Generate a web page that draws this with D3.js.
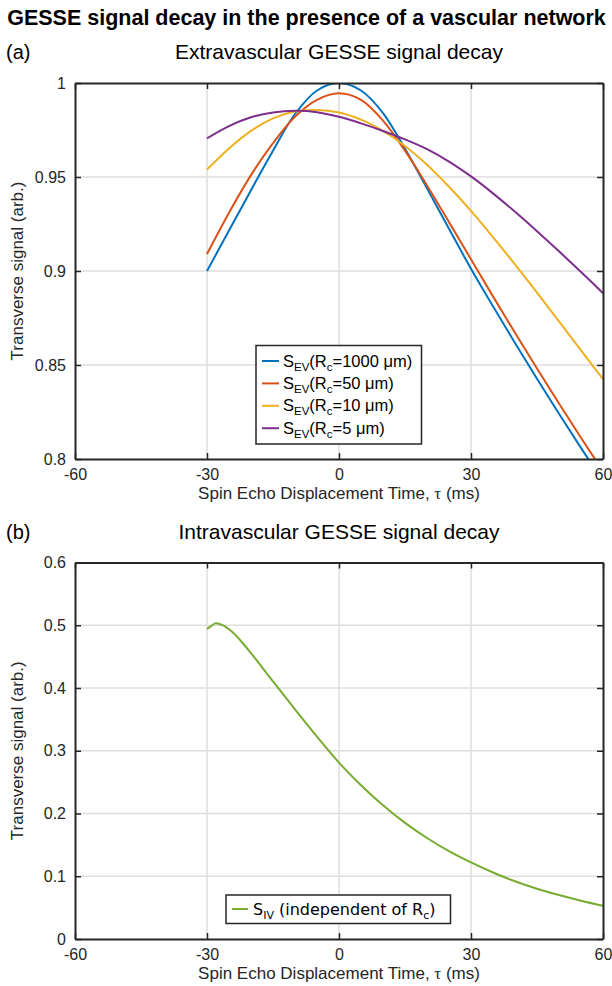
<!DOCTYPE html>
<html>
<head>
<meta charset="utf-8">
<script src="https://cdn.jsdelivr.net/npm/d3@7"></script>
<style>
  body { margin: 0; background: #fff; }
  svg text { font-family: "Liberation Sans", Arial, sans-serif; fill: #262626; }
</style>
</head>
<body>
<svg id="chart" width="612" height="986"></svg>
<script>
// Spin echo displacement time (ms) sampled for the extravascular curves
const tau = [-30, -25, -20, -15, -10, -5, 0, 5, 10, 15, 20, 25, 30, 35, 40, 45, 50, 55, 60];

// Extravascular signal for each capillary radius R_c
const evRc1000 = [0.900, 0.9215, 0.943, 0.964, 0.9835, 0.996, 1.000, 0.996, 0.984, 0.965, 0.944, 0.9225, 0.9012, 0.8812, 0.8617, 0.8427, 0.8241, 0.8059, 0.7881];
const evRc50   = [0.909, 0.931, 0.951, 0.968, 0.982, 0.991, 0.9945, 0.991, 0.980, 0.964, 0.9455, 0.926, 0.9062, 0.8865, 0.8671, 0.8481, 0.8295, 0.8113, 0.7935];
const evRc10   = [0.954, 0.9652, 0.9745, 0.9812, 0.9848, 0.9856, 0.9843, 0.9805, 0.9745, 0.9665, 0.9565, 0.9448, 0.932, 0.918, 0.9035, 0.8885, 0.8732, 0.8578, 0.8425];
const evRc5    = [0.9706, 0.9771, 0.9818, 0.9843, 0.9852, 0.9845, 0.982, 0.9785, 0.9745, 0.970, 0.9648, 0.9582, 0.9503, 0.9413, 0.9315, 0.9212, 0.9105, 0.8995, 0.8882];

// Intravascular signal (independent of R_c)
const ivTau    = [-30, -29, -28, -27, -26, -25, -24, -22, -20, -15, -10, -5, 0, 5, 10, 15, 20, 25, 30, 35, 40, 45, 50, 55, 60];
const ivSignal = [0.494, 0.499, 0.503, 0.5015, 0.4985, 0.4935, 0.4875, 0.4725, 0.4555, 0.4105, 0.366, 0.3225, 0.281, 0.245, 0.213, 0.185, 0.161, 0.140, 0.122, 0.106, 0.092, 0.080, 0.070, 0.061, 0.053];

// Legend labels, colours and ticks
const rcLabels = ["1000", "50", "10", "5"];
const evColors = ["#0072BD", "#D95319", "#EDB120", "#7E2F8E"];
const ivColor = "#77AC30";
const xTicks = [-60, -30, 0, 30, 60];
const yTicksEV = [0.8, 0.85, 0.9, 0.95, 1];
const yTicksIV = [0, 0.1, 0.2, 0.3, 0.4, 0.5, 0.6];

const svg = d3.select("#chart");
const plotLeft = 75, plotRight = 603;

const x = d3.scaleLinear().domain([-60, 60]).range([plotLeft, plotRight]);
const yEV = d3.scaleLinear().domain([0.8, 1]).range([459, 83]);
const yIV = d3.scaleLinear().domain([0, 0.6]).range([939, 562.5]);

// Figure title
svg.append("text")
  .attr("x", 306.5).attr("y", 25)
  .attr("text-anchor", "middle")
  .style("font-weight", "bold").style("font-size", "21.5px").style("fill", "#000")
  .text("GESSE signal decay in the presence of a vascular network");

function drawPanel(opts) {
  const { y, yTicks, tag, title, id } = opts;
  const top = y.range()[1], bottom = y.range()[0];
  const g = svg.append("g");

  // panel tag and title
  g.append("text").attr("x", 6).attr("y", top - 24)
    .style("font-size", "20px").style("fill", "#000").text(tag);
  g.append("text").attr("x", (plotLeft + plotRight) / 2).attr("y", top - 24)
    .attr("text-anchor", "middle").style("font-size", "21px").style("fill", "#000").text(title);

  // grid
  const grid = g.append("g").attr("stroke", "#dedede").attr("stroke-width", 1.5);
  xTicks.slice(1, -1).forEach(t => grid.append("line")
    .attr("x1", x(t)).attr("x2", x(t)).attr("y1", top).attr("y2", bottom));
  yTicks.slice(1, -1).forEach(t => grid.append("line")
    .attr("x1", plotLeft).attr("x2", plotRight).attr("y1", y(t)).attr("y2", y(t)));

  // clip region for data
  svg.append("clipPath").attr("id", id)
    .append("rect").attr("x", plotLeft).attr("y", top)
    .attr("width", plotRight - plotLeft).attr("height", bottom - top);

  const dataLayer = g.append("g").attr("clip-path", `url(#${id})`);

  // axes (inward ticks on all four sides)
  const fmt = d => String(d);
  const axB = g.append("g").attr("transform", `translate(0,${bottom})`)
    .call(d3.axisBottom(x).tickValues(xTicks).tickFormat(fmt).tickSizeInner(-6).tickSizeOuter(0).tickPadding(10));
  const axT = g.append("g").attr("transform", `translate(0,${top})`)
    .call(d3.axisTop(x).tickValues(xTicks).tickFormat("").tickSizeInner(-6).tickSizeOuter(0));
  const axL = g.append("g").attr("transform", `translate(${plotLeft},0)`)
    .call(d3.axisLeft(y).tickValues(yTicks).tickFormat(fmt).tickSizeInner(-6).tickSizeOuter(0).tickPadding(9));
  const axR = g.append("g").attr("transform", `translate(${plotRight},0)`)
    .call(d3.axisRight(y).tickValues(yTicks).tickFormat("").tickSizeInner(-6).tickSizeOuter(0));
  [axB, axT, axL, axR].forEach(a => {
    a.select(".domain").attr("stroke", "#262626").attr("stroke-width", 2);
    a.selectAll(".tick line").attr("stroke", "#262626").attr("stroke-width", 1.5);
    a.selectAll("text").style("font-size", "16px").style("font-family", "Liberation Sans, Arial, sans-serif").attr("fill", "#262626");
  });

  // axis labels
  const xl = g.append("text").attr("x", (plotLeft + plotRight) / 2).attr("y", bottom + 40)
    .attr("text-anchor", "middle").style("font-size", "17px");
  xl.append("tspan").text("Spin Echo Displacement Time, ");
  xl.append("tspan").style("font-family", "Liberation Serif, serif").text("τ");
  xl.append("tspan").text(" (ms)");

  g.append("text")
    .attr("transform", `translate(23,${(top + bottom) / 2}) rotate(-90)`)
    .attr("text-anchor", "middle").style("font-size", "17px")
    .text("Transverse signal (arb.)");

  return { g, dataLayer };
}

// (a) extravascular panel
const pA = drawPanel({ y: yEV, yTicks: yTicksEV, tag: "(a)", title: "Extravascular GESSE signal decay", id: "clipA" });
const lineEV = d3.line().x(d => x(d[0])).y(d => yEV(d[1])).curve(d3.curveCatmullRom.alpha(0.5));
[evRc1000, evRc50, evRc10, evRc5].forEach((vals, i) => {
  pA.dataLayer.append("path")
    .datum(tau.map((t, j) => [t, vals[j]]))
    .attr("fill", "none").attr("stroke", evColors[i]).attr("stroke-width", 2)
    .attr("d", lineEV);
});

// legend (a)
const legA = svg.append("g");
legA.append("rect").attr("x", 256).attr("y", 345.5).attr("width", 165.5).attr("height", 98.5)
  .attr("fill", "#fff").attr("stroke", "#262626").attr("stroke-width", 1.5);
rcLabels.forEach((rc, i) => {
  const cy = 361 + i * 22.4;
  legA.append("line").attr("x1", 262).attr("x2", 279).attr("y1", cy).attr("y2", cy)
    .attr("stroke", evColors[i]).attr("stroke-width", 2);
  const t = legA.append("text").attr("x", 283).attr("y", cy + 5.5).style("font-size", "16.5px").style("fill", "#000");
  t.append("tspan").text("S");
  t.append("tspan").attr("dy", 4).style("font-size", "11.5px").text("EV");
  t.append("tspan").attr("dy", -4).text("(R");
  t.append("tspan").attr("dy", 4).style("font-size", "11.5px").text("c");
  t.append("tspan").attr("dy", -4).text(`=${rc} μm)`);
});

// (b) intravascular panel
const pB = drawPanel({ y: yIV, yTicks: yTicksIV, tag: "(b)", title: "Intravascular GESSE signal decay", id: "clipB" });
const lineIV = d3.line().x(d => x(d[0])).y(d => yIV(d[1])).curve(d3.curveMonotoneX);
pB.dataLayer.append("path")
  .datum(ivTau.map((t, j) => [t, ivSignal[j]]))
  .attr("fill", "none").attr("stroke", ivColor).attr("stroke-width", 2)
  .attr("d", lineIV);

// legend (b)
const legB = svg.append("g");
legB.append("rect").attr("x", 226).attr("y", 895).attr("width", 224.5).attr("height", 28.5)
  .attr("fill", "#fff").attr("stroke", "#262626").attr("stroke-width", 1.5);
legB.append("line").attr("x1", 232).attr("x2", 248).attr("y1", 909).attr("y2", 909)
  .attr("stroke", ivColor).attr("stroke-width", 2);
const tb = legB.append("text").attr("x", 253).attr("y", 915)
  .style("font-family", "DejaVu Sans, sans-serif").style("font-size", "16px").style("fill", "#000");
tb.append("tspan").text("S");
tb.append("tspan").attr("dy", 4).style("font-size", "11px").text("IV");
tb.append("tspan").attr("dy", -4).text(" (independent of R");
tb.append("tspan").attr("dy", 4).style("font-size", "11px").text("c");
tb.append("tspan").attr("dy", -4).text(")");
</script>
</body>
</html>
